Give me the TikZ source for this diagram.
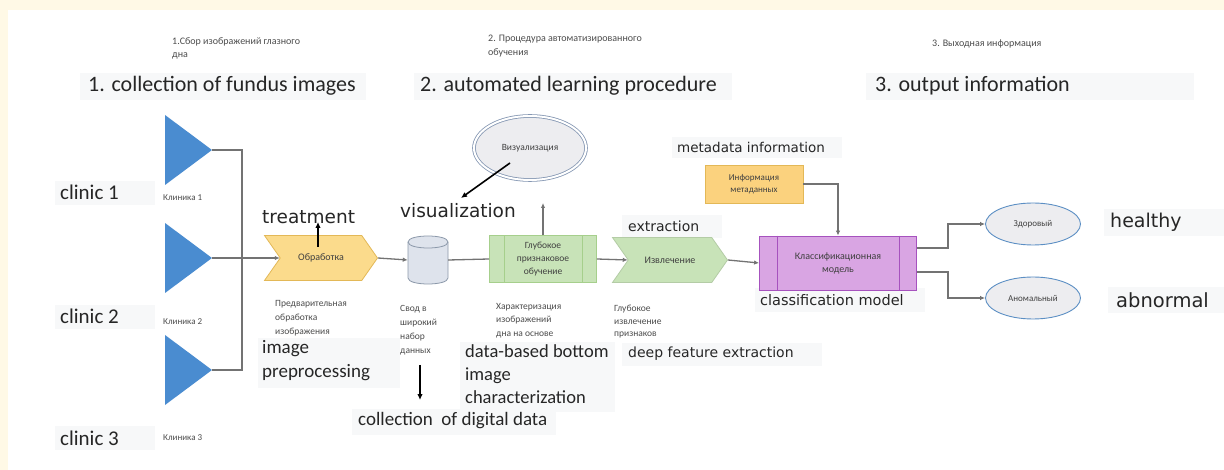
\documentclass[tikz,border=0pt]{standalone}
\usepackage{fontspec}
\setmainfont{Carlito}
\newfontfamily\dv{DejaVu Sans}
\usetikzlibrary{shapes.geometric,shapes.symbols,arrows.meta}
\definecolor{cream}{HTML}{FFF9E6}
\definecolor{triblue}{HTML}{4A8CD0}
\definecolor{yelfill}{HTML}{FBDB8C}
\definecolor{yeldraw}{HTML}{E3B857}
\definecolor{grnfill}{HTML}{C8E3B8}
\definecolor{grndraw}{HTML}{A6CF8C}
\definecolor{purfill}{HTML}{D9A5E3}
\definecolor{purdraw}{HTML}{A652BE}
\definecolor{dbfill}{HTML}{DEE3EC}
\definecolor{dbdraw}{HTML}{8C99AA}
\definecolor{elfill}{HTML}{EDEDF0}
\definecolor{eldraw}{HTML}{5C8FC4}
\definecolor{vizdraw}{HTML}{8496B2}
\definecolor{bggray}{HTML}{F7F8F9}
\tikzset{
  en/.style={anchor=west, inner sep=0, text=black!85},
  ru/.style={font=\fontsize{10}{13}\selectfont, text=black!70, align=left, inner sep=0},
  rusm/.style={font=\fontsize{9}{12}\selectfont, text=black!70, anchor=west, inner sep=0},
  bgbox/.style={fill=bggray, draw=none},
  conn/.style={draw=black!55, line width=1.3pt},
  arr/.style={conn, -{Latex[length=5pt,width=4.5pt]}},
  blk/.style={black, line width=1.6pt, -{Latex[length=6pt,width=5.5pt]}},
  chev/.style={signal, signal to=east, signal from=west, signal pointer angle=110, minimum width=113pt, minimum height=45pt, inner sep=0, line width=0.8pt},
  procbox/.style={rectangle, inner sep=0, line width=0.8pt},
  oval/.style={ellipse, fill=elfill, draw=eldraw, line width=0.9pt, minimum width=95pt, minimum height=42pt, inner sep=0, font=\fontsize{9}{11}\selectfont, text=black!75}
}
\begin{document}
\begin{tikzpicture}[x=1pt,y=-1pt]
\useasboundingbox (0,0) rectangle (1224,470);
\fill[cream] (0,0) rectangle (1224,470);
\fill[white] (8,10) rectangle (1224,470);

% light background boxes behind English labels
\fill[bgbox] (80,73) rectangle (366,100);
\fill[bgbox] (414,73) rectangle (732,100);
\fill[bgbox] (866,73) rectangle (1194,100);
\fill[bgbox] (55,181) rectangle (155,205);
\fill[bgbox] (55,305) rectangle (155,329);
\fill[bgbox] (55,426) rectangle (155,450);
\fill[bgbox] (258,338) rectangle (400,388);
\fill[bgbox] (460,342) rectangle (615,412);
\fill[bgbox] (352,409) rectangle (556,435);
\fill[bgbox] (622,343) rectangle (822,366);
\fill[bgbox] (672,137) rectangle (842,158);
\fill[bgbox] (622,215) rectangle (722,238);
\fill[bgbox] (755,288) rectangle (925,312);
\fill[bgbox] (1104,209) rectangle (1224,236);
\fill[bgbox] (1108,287) rectangle (1224,313);

% headers
\node[ru, anchor=north west, font=\fontsize{10}{13}\selectfont] (r1) at (172,37) {1.Сбор изображений глазного\\дна};
\node[ru, anchor=north west, font=\fontsize{10}{14}\selectfont] (r2) at (488,35) {2. Процедура автоматизированного\\обучения};
\node[rusm, font=\fontsize{10}{13}\selectfont] (r3) at (932,44) {3. Выходная информация};
\node[en, font=\fontsize{22}{26}\selectfont] (h1) at (88,86) {1. collection of fundus images};
\node[en, font=\fontsize{22}{26}\selectfont] (h2) at (420,86) {2. automated learning procedure};
\node[en, font=\fontsize{22}{26}\selectfont] (h3) at (875,86) {3. output information};

% clinics
\fill[triblue] (165,115) -- (212,150) -- (165,185) -- cycle;
\fill[triblue] (165,223) -- (212,258) -- (165,293) -- cycle;
\fill[triblue] (165,335) -- (212,370) -- (165,405) -- cycle;
\coordinate (t1) at (212,150);
\coordinate (t2) at (212,258);
\coordinate (t3) at (212,370);
\coordinate (bus1) at (242,150);
\coordinate (bus3) at (242,370);
\node[en, font=\fontsize{21}{24}\selectfont] (c1) at (60,192) {clinic 1};
\node[en, font=\fontsize{21}{24}\selectfont] (c2) at (60,316) {clinic 2};
\node[en, font=\fontsize{21}{24}\selectfont] (c3) at (60,438) {clinic 3};
\node[rusm] (k1) at (163,198) {Клиника 1};
\node[rusm] (k2) at (163,322) {Клиника 2};
\node[rusm] (k3) at (163,438) {Клиника 3};

% main chain
\node[chev, fill=yelfill, draw=yeldraw, font=\fontsize{10}{12}\selectfont, text=black!75] (proc) at (321,258) {Обработка};
% database cylinder
\node[minimum width=40pt, minimum height=48pt, inner sep=0] (db) at (428,260) {};
\path[fill=dbfill, draw=dbdraw, line width=0.8pt] (408,242) -- (408,278) .. controls (408,286) and (448,286) .. (448,278) -- (448,242) .. controls (448,234) and (408,234) .. (408,242) -- cycle;
\draw[dbdraw, line width=0.8pt] (408,242) .. controls (408,250) and (448,250) .. (448,242);
\node[procbox, fill=grnfill, draw=grndraw, minimum width=107pt, minimum height=47pt, align=center, font=\fontsize{9.5}{13}\selectfont, text=black!75] (deep) at (543,259) {Глубокое\\признаковое\\обучение};
\draw[grndraw, line width=0.8pt] ([xshift=15pt]deep.north west) -- ([xshift=15pt]deep.south west);
\draw[grndraw, line width=0.8pt] ([xshift=-15pt]deep.north east) -- ([xshift=-15pt]deep.south east);
\node[chev, fill=grnfill, draw=grnfill!90!black, minimum width=115pt, font=\fontsize{10}{12}\selectfont, text=black!75] (ext) at (670,260) {Извлечение};
\node[procbox, fill=purfill, draw=purdraw, minimum width=157pt, minimum height=54pt, align=center, font=\fontsize{10}{13}\selectfont, text=black!75] (cls) at (838,263) {Классификационная\\модель};
\draw[purdraw, line width=0.8pt] ([xshift=18pt]cls.north west) -- ([xshift=18pt]cls.south west);
\draw[purdraw, line width=0.8pt] ([xshift=-18pt]cls.north east) -- ([xshift=-18pt]cls.south east);
\node[procbox, fill=yelfill!90!orange, draw=yeldraw, minimum width=98pt, minimum height=38pt, align=center, font=\fontsize{9}{12}\selectfont, text=black!75] (meta) at (754,184) {Информация\\метаданных};
\node[ellipse, fill=elfill, draw=vizdraw, double=white, double distance=2pt, line width=0.8pt, minimum width=112pt, minimum height=64pt, inner sep=0, font=\fontsize{9.5}{11}\selectfont, text=black!75] (viz) at (530,148) {Визуализация};
\node[oval] (healthy) at (1033,224) {Здоровый};
\node[oval] (abn) at (1033,298) {Аномальный};

% labels
\node[en, font=\dv\fontsize{18.5}{22}\selectfont] (treat) at (262,217) {treatment};
\node[en, font=\dv\fontsize{18.5}{22}\selectfont] (vis) at (400,211) {visualization};
\node[en, font=\dv\fontsize{14}{17}\selectfont] (extl) at (628,226) {extraction};
\node[en, font=\dv\fontsize{13.5}{16}\selectfont] (metal) at (677,147) {metadata\ information};
\node[en, font=\dv\fontsize{14.5}{17}\selectfont] (clsl) at (760,300) {classification model};
\node[en, font=\dv\fontsize{14}{17}\selectfont] (dfe) at (628,354) {deep\ feature extraction};
\node[en, font=\dv\fontsize{19}{22}\selectfont] (hl) at (1110,222) {healthy};
\node[en, font=\dv\fontsize{19.5}{22}\selectfont] (al) at (1116,300) {abnormal};
\node[en, anchor=north west, align=left, font=\fontsize{19}{24}\selectfont] (ipp) at (262,340) {image\\preprocessing};
\node[en, anchor=north west, align=left, font=\fontsize{18.5}{23}\selectfont] (dbc) at (465,344) {data-based bottom\\image\\characterization};
\node[en, font=\fontsize{19}{22}\selectfont] (coll) at (358,421) {collection\ \ of digital data};

% small Russian captions
\node[ru, anchor=north west, font=\fontsize{9.5}{14}\selectfont] (pp) at (275,300) {Предварительная\\обработка\\изображения};
\node[ru, anchor=north west, font=\fontsize{9.5}{14}\selectfont] (sv) at (400,305) {Свод в\\широкий\\набор\\данных};
\node[ru, anchor=north west, font=\fontsize{9.5}{13.5}\selectfont] (ch) at (496,303) {Характеризация\\изображений\\дна на основе};
\node[ru, anchor=north west, font=\fontsize{9.5}{12.5}\selectfont] (gi) at (614,305) {Глубокое\\извлечение\\признаков};

% connectors
\draw[conn] (t1) -- (bus1) -- (bus3) -- (t3);
\draw[arr] (t2) -- (proc.west);
\draw[arr] (proc.east) -- (db.west);
\draw[conn] (db.east) -- (deep.west);
\draw[arr] (deep.east) -- (ext.west);
\draw[arr] (ext.east) -- (cls.west);
\draw[arr] (meta.east) -| (cls.north);
\coordinate (vtop) at (543,203);
\draw[arr, line width=1.1pt] (deep.north) -- (vtop);
\draw[arr] ([yshift=15pt]cls.east) -- ++(31,0) |- (healthy.west);
\draw[arr] ([yshift=-9pt]cls.east) -- ++(31,0) |- (abn.west);

% black arrows
\coordinate (tra) at (318,247);
\coordinate (trb) at (318,222);
\draw[blk] (tra) -- (trb);
\coordinate (va) at (510,163);
\coordinate (vb) at (461,198);
\draw[blk] (va) -- (vb);
\coordinate (ca) at (420,365);
\coordinate (cb) at (420,400);
\draw[blk] (ca) -- (cb);
\end{tikzpicture}
\end{document}
